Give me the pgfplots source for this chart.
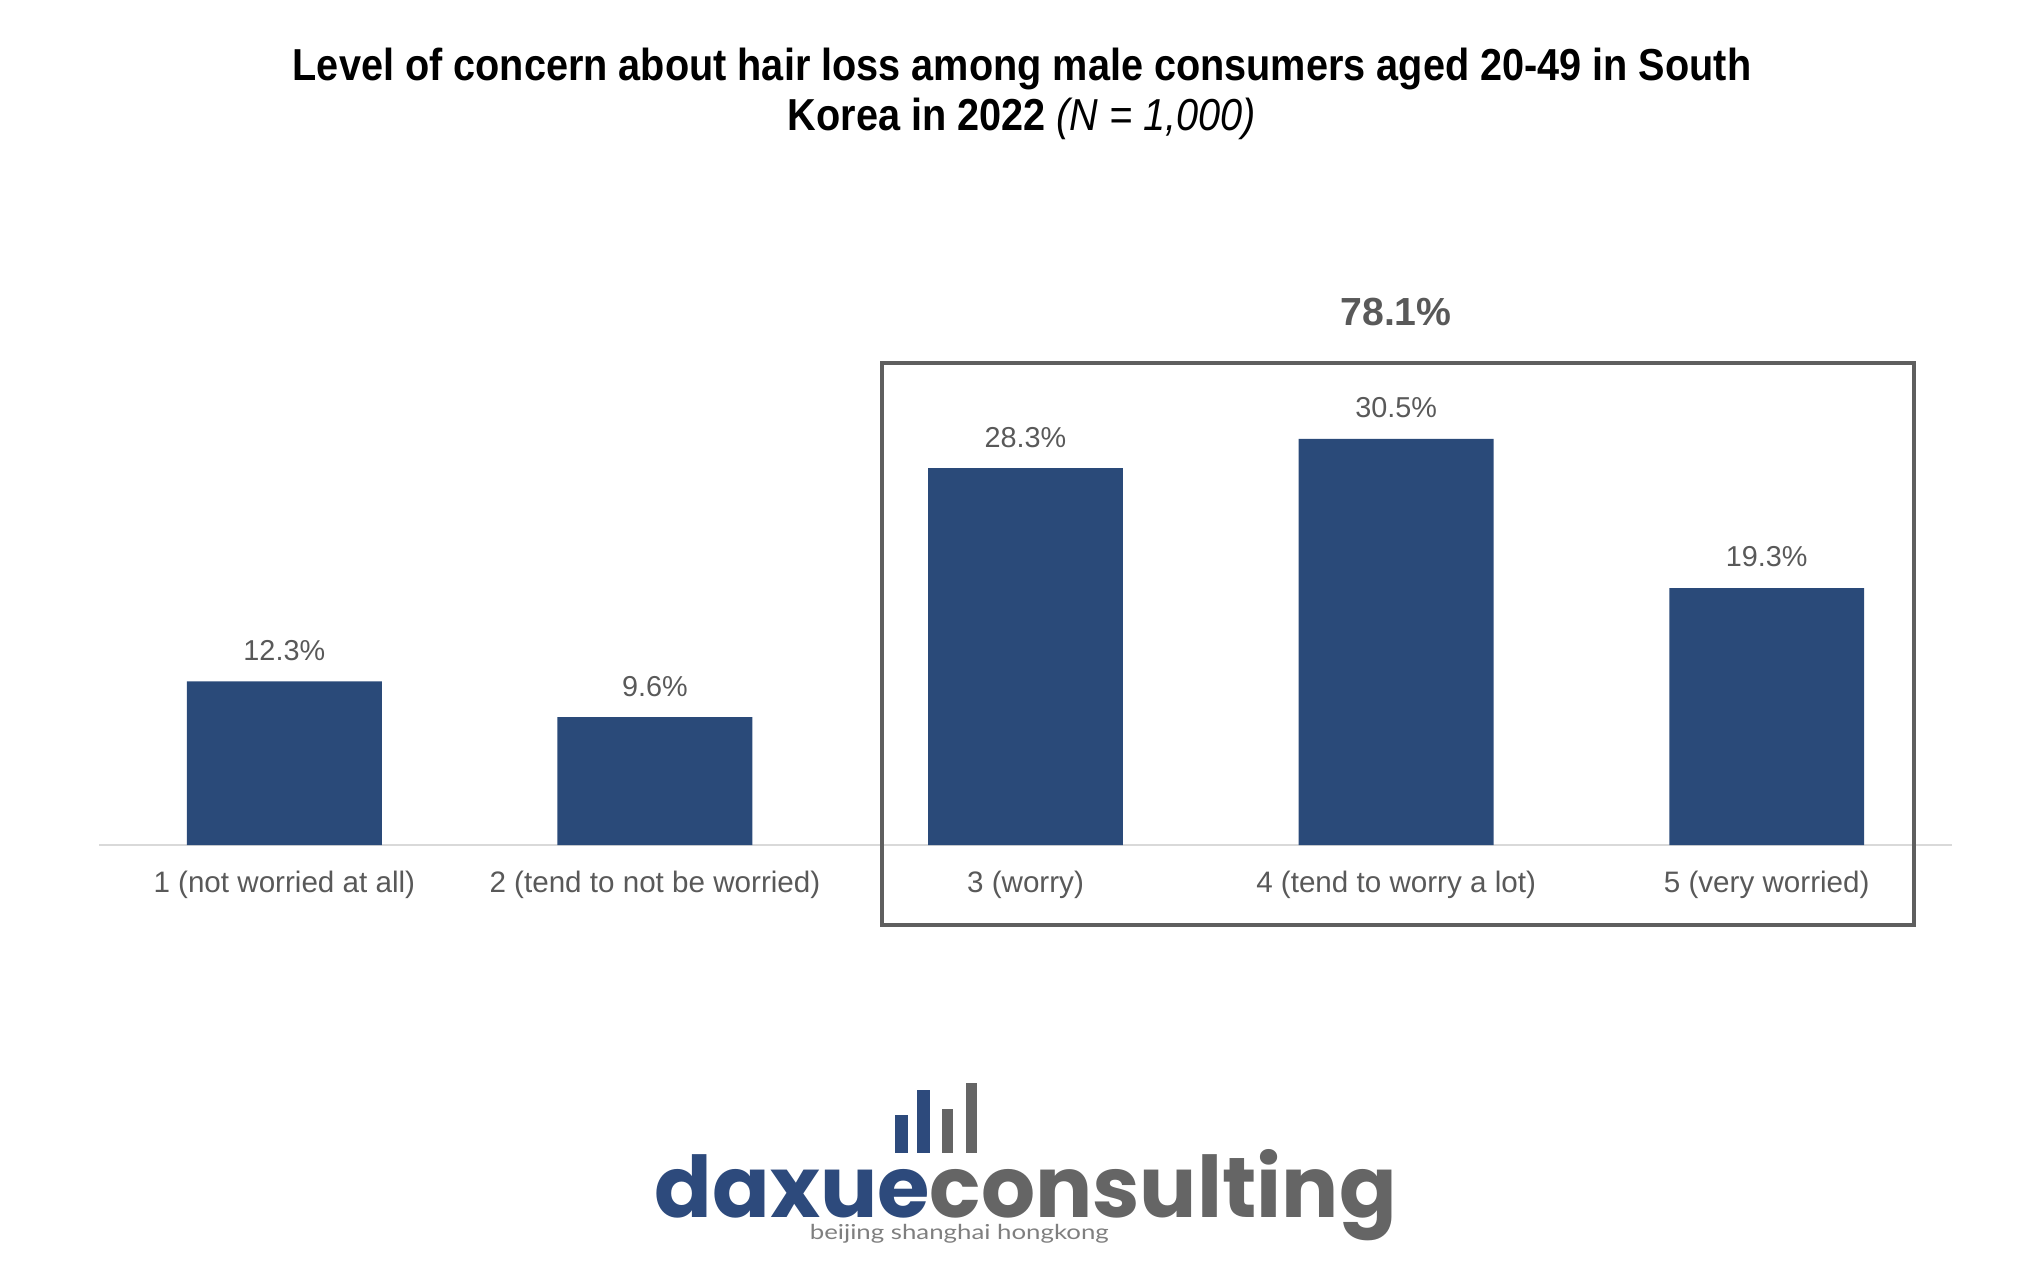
\documentclass[border=0pt]{standalone}
\usepackage{pgfplots}
\pgfplotsset{compat=1.18}
\usepackage{fontspec}
\setmainfont{Liberation Sans}
\newfontfamily\logofont{Poppins}
\newfontfamily\subfont{Lato}
\definecolor{barblue}{HTML}{2A4A79}
\definecolor{labelgray}{HTML}{595959}
\definecolor{boxgray}{HTML}{5F5F5F}
\definecolor{axisgray}{HTML}{D9D9D9}
\definecolor{logoblue}{HTML}{2D4A7C}
\definecolor{logogray}{HTML}{656565}
\definecolor{subgray}{HTML}{7F7F7F}
\begin{document}
\begin{tikzpicture}[x=0.25pt,y=0.25pt]
\path[use as bounding box] (0,0) rectangle (2040,1278);
% title
\node[font=\fontsize{11.2}{13}\selectfont\bfseries, anchor=center] at (1022,1209) {\scalebox{0.885}[1]{Level of concern about hair loss among male consumers aged 20-49 in South}};
\node[font=\fontsize{11.2}{13}\selectfont\bfseries, anchor=center] at (1022,1159) {\scalebox{0.885}[1]{Korea in 2022 \textit{\mdseries(N = 1,000)}}};
\begin{axis}[
  at={(24.75pt,108.25pt)}, anchor=south west,
  scale only axis, width=463.25pt, height=116.5pt,
  xmin=-0.5, xmax=4.5, ymin=0, ymax=35,
  axis x line*=bottom, axis y line=none,
  x axis line style={draw=axisgray, line width=0.6pt, -},
  xtick={0,1,2,3,4},
  xticklabels={1 (not worried at all),2 (tend to not be worried),3 (worry),4 (tend to worry a lot),5 (very worried)},
  xtick style={draw=none},
  xticklabel style={font=\fontsize{7.4}{9}\selectfont, text=labelgray, anchor=center, yshift=-9.9pt},
  ytick=\empty,
  clip=false,
  /pgf/number format/assume math mode=true,
  nodes near coords={\pgfmathprintnumber[fixed,precision=1,fixed zerofill,assume math mode=true]{\pgfplotspointmeta}\%},
  nodes near coords style={font=\fontsize{7.2}{9}\selectfont, text=labelgray, anchor=center, yshift=7.75pt},
]
\addplot[ybar, bar width=0.526, fill=barblue, draw=none] coordinates {(0,12.3) (1,9.6) (2,28.3) (3,30.5) (4,19.3)};
\end{axis}
% bracket box and total
\draw[boxgray, line width=1pt] (882,353) rectangle (1914,915);
\node[font=\fontsize{9.8}{11}\selectfont\bfseries, text=labelgray, anchor=center] at (1396,966) {78.1\%};
% logo
\fill[logoblue] (895,125) rectangle (908,163);
\fill[logoblue] (917,125) rectangle (930,188);
\fill[logogray] (942,125) rectangle (953,169);
\fill[logogray] (966,125) rectangle (977,195);
\node[anchor=base west, inner sep=0pt, text depth=0pt] at (654,61) {\resizebox{185.5pt}{!}{\logofont\bfseries\textcolor{logoblue}{daxue}\textcolor{logogray}{consulting}}};
\node[anchor=base west, inner sep=0pt] at (809,39) {\scalebox{1}[0.8]{\resizebox{74.75pt}{!}{\subfont\textcolor{subgray}{beijing shanghai hongkong}}}};
\end{tikzpicture}
\end{document}
